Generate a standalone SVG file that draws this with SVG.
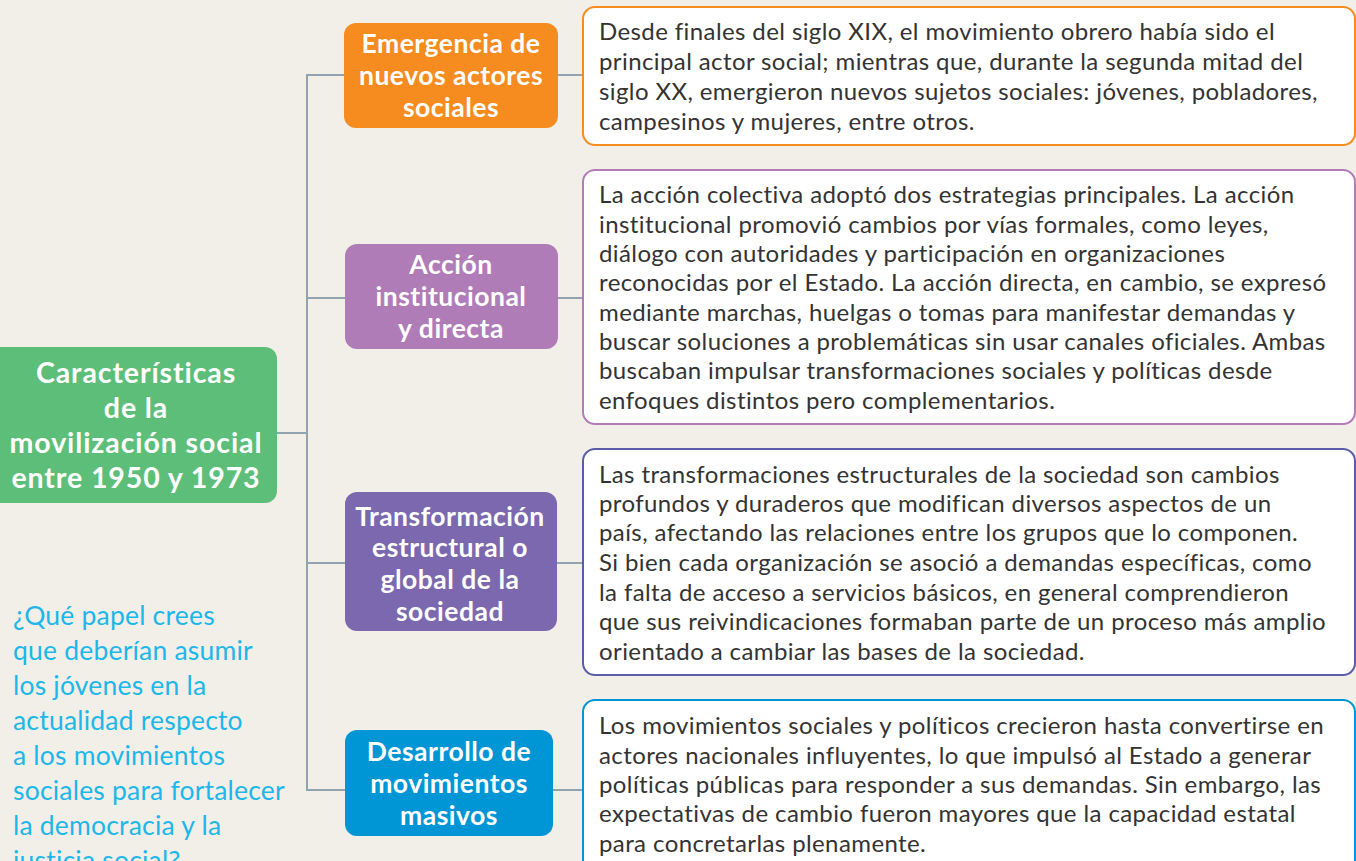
<svg xmlns="http://www.w3.org/2000/svg" width="1356" height="861" viewBox="0 0 1356 861">
<style>
.bg{fill:#F2EFE8}
.node text{font-family:Lato,"Open Sans",sans-serif;font-weight:bold;fill:#fff;text-anchor:middle}
.nt{font-size:26.5px;letter-spacing:0.5px}
.rt{font-size:28.5px;letter-spacing:0.9px}
.box rect{fill:#fff;stroke-width:2}
.box text{font-family:Lato,"Open Sans",sans-serif;font-size:24px;letter-spacing:0.4px;fill:#333}
.conn line,.conn path{stroke:#8FA3B1;stroke-width:2;fill:none}
.q{font-family:Lato,"Open Sans",sans-serif;font-size:26.5px;letter-spacing:0.2px;fill:#1DB7E9}
</style>
<rect class="bg" x="0" y="0" width="1356" height="861"/>
<g class="conn">
<path d="M277 433H307"/>
<path d="M344 75H307V790H345"/>
<path d="M307 298H345"/>
<path d="M307 563H345"/>
<path d="M558 75H583"/>
<path d="M558 298H583"/>
<path d="M557 563H583"/>
<path d="M553 790H583"/>
</g>
<g id="root" class="node">
<rect x="-12" y="347" width="289" height="156" rx="12" fill="#5DBE79"/>
<text class="rt" x="136" y="383">Características</text>
<text class="rt" x="136" y="418">de la</text>
<text class="rt" x="136" y="453">movilización social</text>
<text class="rt" x="136" y="488">entre 1950 y 1973</text>
</g>
<g id="n1" class="node">
<rect x="344" y="23" width="214" height="105" rx="12" fill="#F68B1F"/>
<text class="nt" x="451" y="53">Emergencia de</text>
<text class="nt" x="451" y="85">nuevos actores</text>
<text class="nt" x="451" y="117">sociales</text>
</g>
<g id="n2" class="node">
<rect x="345" y="244" width="213" height="105" rx="12" fill="#B07CB8"/>
<text class="nt" x="451" y="274">Acción</text>
<text class="nt" x="451" y="306">institucional</text>
<text class="nt" x="451" y="338">y directa</text>
</g>
<g id="n3" class="node">
<rect x="345" y="492" width="212" height="139" rx="12" fill="#7B68AE"/>
<text class="nt" x="450" y="526">Transformación</text>
<text class="nt" x="450" y="557">estructural o</text>
<text class="nt" x="450" y="589">global de la</text>
<text class="nt" x="450" y="621">sociedad</text>
</g>
<g id="n4" class="node">
<rect x="345" y="730" width="208" height="106" rx="12" fill="#0096D6"/>
<text class="nt" x="449" y="761">Desarrollo de</text>
<text class="nt" x="449" y="793">movimientos</text>
<text class="nt" x="449" y="825">masivos</text>
</g>
<g id="b1" class="box">
<rect x="583" y="7" width="772" height="138" rx="12" stroke="#F68B1F"/>
<text x="599" y="40">Desde finales del siglo XIX, el movimiento obrero había sido el</text>
<text x="599" y="70">principal actor social; mientras que, durante la segunda mitad del</text>
<text x="599" y="100">siglo XX, emergieron nuevos sujetos sociales: jóvenes, pobladores,</text>
<text x="599" y="130">campesinos y mujeres, entre otros.</text>
</g>
<g id="b2" class="box">
<rect x="583" y="170" width="772" height="254" rx="12" stroke="#B57BB8"/>
<text x="599" y="203">La acción colectiva adoptó dos estrategias principales. La acción</text>
<text x="599" y="233">institucional promovió cambios por vías formales, como leyes,</text>
<text x="599" y="262">diálogo con autoridades y participación en organizaciones</text>
<text x="599" y="291">reconocidas por el Estado. La acción directa, en cambio, se expresó</text>
<text x="599" y="321">mediante marchas, huelgas o tomas para manifestar demandas y</text>
<text x="599" y="350">buscar soluciones a problemáticas sin usar canales oficiales. Ambas</text>
<text x="599" y="379">buscaban impulsar transformaciones sociales y políticas desde</text>
<text x="599" y="409">enfoques distintos pero complementarios.</text>
</g>
<g id="b3" class="box">
<rect x="583" y="449" width="772" height="226" rx="12" stroke="#5B5EA6"/>
<text x="599" y="483">Las transformaciones estructurales de la sociedad son cambios</text>
<text x="599" y="512">profundos y duraderos que modifican diversos aspectos de un</text>
<text x="599" y="541">país, afectando las relaciones entre los grupos que lo componen.</text>
<text x="599" y="571">Si bien cada organización se asoció a demandas específicas, como</text>
<text x="599" y="601">la falta de acceso a servicios básicos, en general comprendieron</text>
<text x="599" y="630">que sus reivindicaciones formaban parte de un proceso más amplio</text>
<text x="599" y="660">orientado a cambiar las bases de la sociedad.</text>
</g>
<g id="b4" class="box">
<rect x="583" y="700" width="772" height="175" rx="12" stroke="#0096D6"/>
<text x="599" y="734">Los movimientos sociales y políticos crecieron hasta convertirse en</text>
<text x="599" y="764">actores nacionales influyentes, lo que impulsó al Estado a generar</text>
<text x="599" y="793">políticas públicas para responder a sus demandas. Sin embargo, las</text>
<text x="599" y="822">expectativas de cambio fueron mayores que la capacidad estatal</text>
<text x="599" y="852">para concretarlas plenamente.</text>
</g>
<g id="question">
<text class="q" x="13" y="625">¿Qué papel crees</text>
<text class="q" x="13" y="660">que deberían asumir</text>
<text class="q" x="13" y="695">los jóvenes en la</text>
<text class="q" x="13" y="730">actualidad respecto</text>
<text class="q" x="13" y="765">a los movimientos</text>
<text class="q" x="13" y="800">sociales para fortalecer</text>
<text class="q" x="13" y="835">la democracia y la</text>
<text class="q" x="13" y="870">justicia social?</text>
</g>
</svg>
